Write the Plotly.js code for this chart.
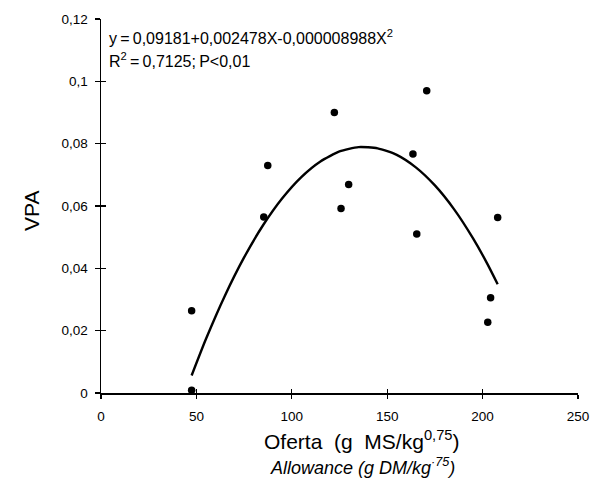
<!DOCTYPE html>
<html>
<head>
<meta charset="utf-8">
<script src="https://cdn.plot.ly/plotly-3.0.1.min.js"></script>
<style>html,body{margin:0;padding:0;background:#fff;}#chart{width:590px;height:481px;}</style>
</head>
<body>
<div id="chart"></div>
<script>
// Observed data points (Oferta, VPA)
var ofertaObs = [47.5, 47.5, 85.3, 87.4, 122.3, 125.8, 129.8, 163.5, 165.5, 170.7, 202.7, 204.2, 207.9];
var vpaObs    = [0.0009, 0.0264, 0.0565, 0.0730, 0.0900, 0.0592, 0.0669, 0.0767, 0.0510, 0.0970, 0.0227, 0.0306, 0.0563];

// Fitted curve
var ofertaFit = [47.5, 55, 65, 75, 85, 95, 105, 115, 125, 135, 145, 155, 165, 175, 185, 195, 202.7, 207.9];
var vpaFit    = [0.0056, 0.0173, 0.0313, 0.0435, 0.0539, 0.0625, 0.0693, 0.0743, 0.0775, 0.0789, 0.0785, 0.0764, 0.0724, 0.0666, 0.0590, 0.0496, 0.0412, 0.0349];

var xTicks = [0, 50, 100, 150, 200, 250];
var yTicks = [0, 0.02, 0.04, 0.06, 0.08, 0.1, 0.12];

var eqLine1 = 'y\u2009=\u20090,09181+0,002478X-0,000008988X<sup>2</sup>';
var eqLine2 = 'R<sup>2</sup>\u2009=\u20090,7125;\u2009P<0,01';
var xTitle = 'Oferta\u00A0 (g\u00A0 MS/kg<sup>0,75</sup>)';
var xSubTitle = '<i>Allowance (g DM/kg<sup>\u00B775</sup>)</i>';
var yTitle = 'VPA';

var FONT = 'Liberation Sans, Arial, Helvetica, sans-serif';

var traces = [
  {
    x: ofertaObs, y: vpaObs, type: 'scatter', mode: 'markers',
    marker: {color: '#000', size: 7.5},
    cliponaxis: false, hoverinfo: 'x+y',
    xaxis: 'x', yaxis: 'y'
  },
  {
    x: ofertaFit, y: vpaFit, type: 'scatter', mode: 'lines',
    line: {color: '#000', width: 2.4, shape: 'spline', smoothing: 0.6},
    cliponaxis: false,
    xaxis: 'x2', yaxis: 'y2'
  }
];

var layout = {
  width: 590, height: 481,
  margin: {l: 101, r: 12, t: 19, b: 88},
  paper_bgcolor: '#fff', plot_bgcolor: '#fff',
  separators: ', ',
  showlegend: false,
  font: {family: FONT, color: '#000', size: 13.5},
  xaxis: {
    range: [0, 250], tickvals: xTicks, ticks: 'outside', ticklen: 4, tickwidth: 1.2,
    tickcolor: '#000', showline: true, linecolor: '#000', linewidth: 1.5,
    showgrid: false, zeroline: false, tickfont: {size: 13.5, family: FONT},
    ticklabelstandoff: 6
  },
  yaxis: {
    range: [0, 0.12], tickvals: yTicks, ticks: 'outside', ticklen: 5, tickwidth: 1.2,
    tickcolor: '#000', showline: true, linecolor: '#000', linewidth: 1.5,
    showgrid: false, zeroline: false, tickfont: {size: 13.5, family: FONT},
    ticklabelstandoff: 4
  },
  xaxis2: {
    range: [0, 250], tickvals: xTicks, ticks: 'inside', ticklen: 4, tickwidth: 1.2,
    tickcolor: '#000', showline: false, showgrid: false, zeroline: false,
    showticklabels: false, overlaying: 'x', side: 'bottom'
  },
  yaxis2: {
    range: [0, 0.12], tickvals: yTicks, ticks: 'inside', ticklen: 5, tickwidth: 1.2,
    tickcolor: '#000', showline: false, showgrid: false, zeroline: false,
    showticklabels: false, overlaying: 'y', side: 'left'
  },
  annotations: [
    {text: eqLine1, xref: 'paper', yref: 'paper', x: 0, y: 1, xanchor: 'left', yanchor: 'middle',
     xshift: 6, yshift: -18, showarrow: false, font: {size: 16, family: FONT}},
    {text: eqLine2, xref: 'paper', yref: 'paper', x: 0, y: 1, xanchor: 'left', yanchor: 'middle',
     xshift: 6, yshift: -41, showarrow: false, font: {size: 16, family: FONT}},
    {text: xTitle, xref: 'paper', yref: 'paper', x: 0.546, y: 0, xanchor: 'center', yanchor: 'middle',
     yshift: -47, showarrow: false, font: {size: 21, family: FONT}},
    {text: xSubTitle, xref: 'paper', yref: 'paper', x: 0.548, y: 0, xanchor: 'center', yanchor: 'middle',
     yshift: -73, showarrow: false, font: {size: 18, family: FONT}},
    {text: yTitle, xref: 'paper', yref: 'paper', x: 0, y: 0.5, xanchor: 'center', yanchor: 'middle',
     xshift: -70, yshift: -5, textangle: -90, showarrow: false, font: {size: 21, family: FONT}}
  ]
};

Plotly.newPlot('chart', traces, layout, {displayModeBar: false, staticPlot: true});
</script>
</body>
</html>
